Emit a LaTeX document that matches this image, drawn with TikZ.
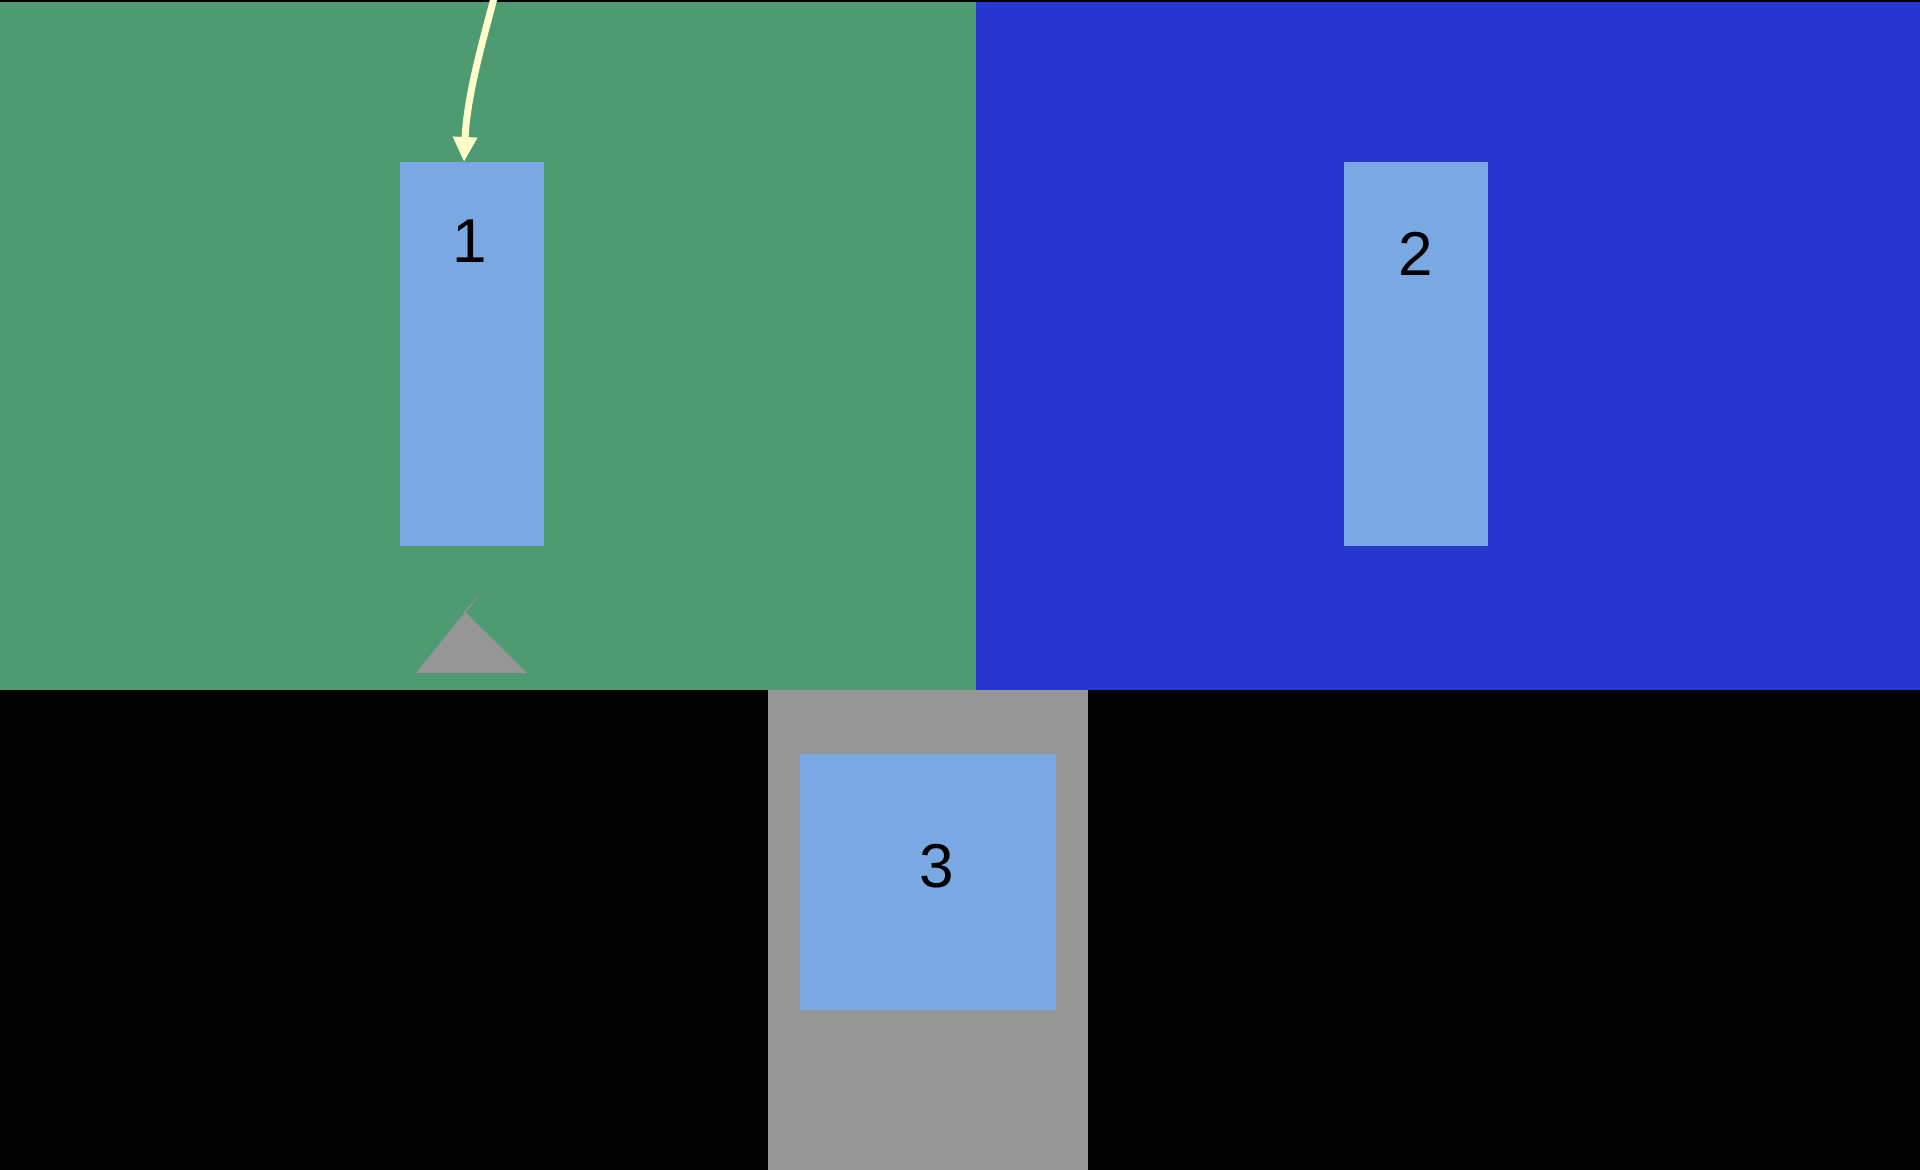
\documentclass[tikz,border=0pt]{standalone}
\usepackage{fontspec}
\setmainfont{Liberation Sans}
\usetikzlibrary{arrows.meta}
\definecolor{panelgreen}{RGB}{78,154,115}
\definecolor{panelblue}{RGB}{38,54,206}
\definecolor{boxblue}{RGB}{122,168,226}
\definecolor{stand}{RGB}{150,150,150}
\definecolor{cream}{RGB}{255,255,204}
\tikzset{
  panel/.style={draw=none, inner sep=0pt, outer sep=0pt, anchor=north west},
  slot/.style={panel, fill=boxblue},
  digit/.style={inner sep=0pt, font=\fontsize{62}{62}\selectfont, text=black},
  feed/.style={draw=cream, line width=7pt, -{Triangle[width=23pt,length=25pt]}}
}
\begin{document}
\begin{tikzpicture}[x=1pt, y=-1pt]
  % canvas
  \fill[black] (0,0) rectangle (1920,1170);
  \useasboundingbox (0,0) rectangle (1920,1170);
  % upper panels and lower stand
  \node[panel, fill=panelgreen, minimum width=976pt, minimum height=688pt] (left) at (0,2) {};
  \node[panel, fill=panelblue, minimum width=944pt, minimum height=688pt] (right) at (976,2) {};
  \node[panel, fill=stand, minimum width=320pt, minimum height=480pt] (base) at (768,690) {};
  % blue slots
  \node[slot, minimum width=144pt, minimum height=384pt] (s1) at (400,162) {};
  \node[slot, minimum width=144pt, minimum height=384pt] (s2) at (1344,162) {};
  \node[slot, minimum width=256pt, minimum height=256pt] (s3) at (800,754) {};
  % labels
  \node[digit] (l1) at (470,241) {1};
  \node[digit] (l2) at (1416,254) {2};
  \node[digit] (l3) at (937,866) {3};
  % grey marker below slot 1
  \fill[stand] (416,673) -- (465,612) -- (527,673) -- cycle;
  \fill[stand] (463,613) -- (480,594) -- (467,611) -- cycle;
  % incoming arrow
  \coordinate (src) at (494,-2);
  \coordinate (dst) at ([xshift=-8pt]s1.north);
  \draw[feed] (src) .. controls (483,40) and (467,95) .. (dst);
\end{tikzpicture}
\end{document}
